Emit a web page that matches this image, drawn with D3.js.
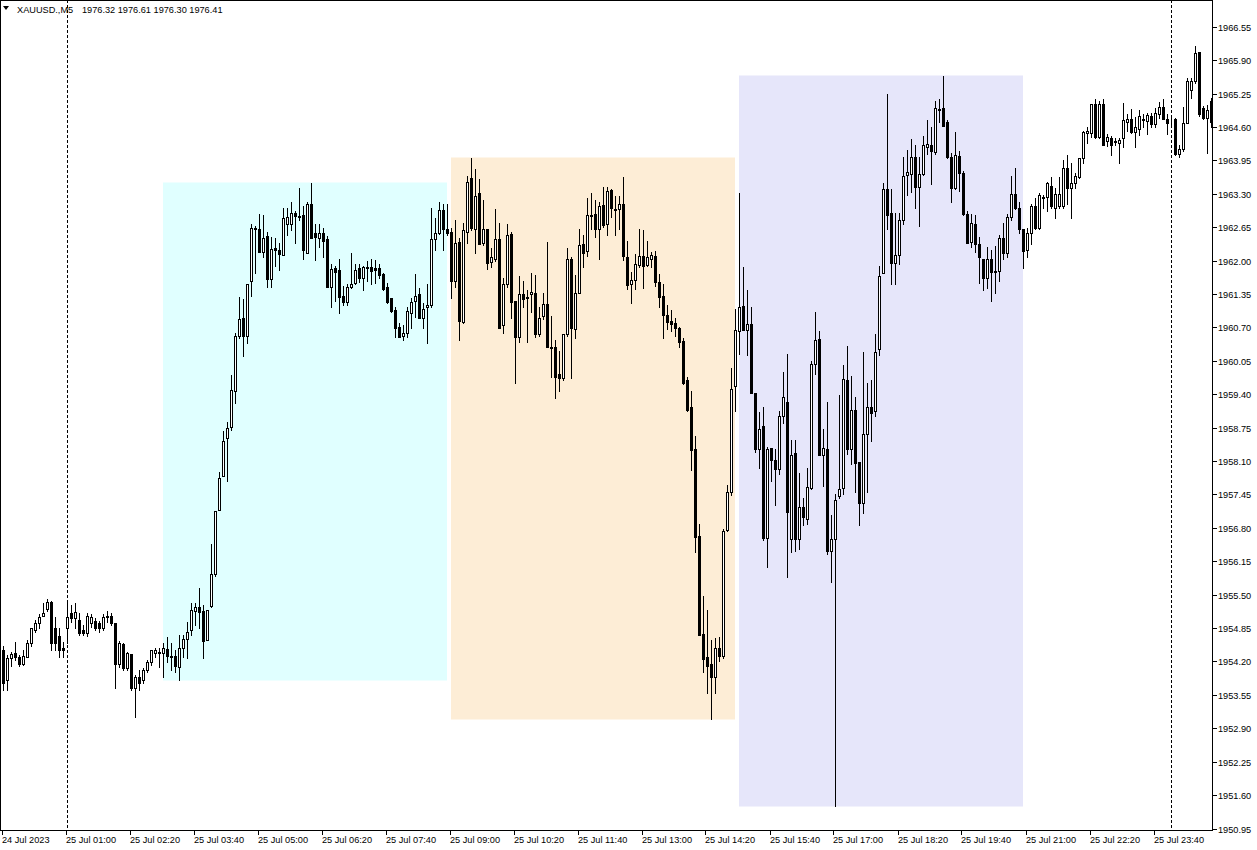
<!DOCTYPE html>
<html><head><meta charset="utf-8">
<script src="https://cdn.jsdelivr.net/npm/d3@7"></script>
<style>
html,body{margin:0;padding:0;background:#fff;}
svg{display:block;font-family:"Liberation Sans",Arial,sans-serif;}
</style></head><body>
<svg id="c" width="1257" height="850"></svg>
<script>
// ---------- DATA ----------
const symbolName = "XAUUSD.,M5";
const headerQuote = ["1976.32", "1976.61", "1976.30", "1976.41"];
const firstBarTime = "2023-07-24 22:40";   // M5 bars, no trading 00:00-00:55

const opens = [
1954.42,1953.83,1954.26,1954.36,1954.28,1954.16,1954.28,1954.55,1954.81,1954.94,
1955.09,1955.23,1955.35,1954.86,1954.69,1954.47,1954.86,1955.15,1955.04,1955.00,
1954.81,1954.75,1954.94,1954.98,1954.94,1954.85,1955.08,1955.09,1954.94,1954.16,
1954.53,1954.07,1954.34,1953.68,1953.89,1953.83,1954.03,1954.18,1954.36,1954.38,
1954.36,1954.44,1954.30,1954.30,1954.09,1954.47,1954.63,1954.81,1955.19,1955.25,
1955.19,1954.61,1955.27,1955.91,1957.14,1957.80,1958.54,1958.77,1959.47,1960.53,
1960.89,1960.54,1961.61,1962.61,1962.61,1962.16,1962.47,1961.65,1962.24,1962.20,
1962.10,1962.72,1962.72,1962.93,1962.86,1962.88,1962.14,1963.11,1962.53,1962.43,
1962.53,1962.41,1961.48,1961.85,1961.81,1961.32,1961.20,1961.48,1961.57,1961.85,
1961.67,1961.87,1961.88,1961.85,1961.85,1961.73,1961.48,1961.28,1961.03,1960.70,
1960.54,1960.60,1960.97,1961.22,1961.34,1960.89,1961.09,1961.13,1962.41,1962.53,
1962.99,1962.61,1962.55,1961.61,1962.37,1960.81,1962.55,1963.60,1962.61,1963.31,
1962.35,1962.61,1961.98,1962.04,1962.41,1960.74,1961.55,1962.51,1961.22,1960.51,
1961.34,1961.30,1961.34,1961.36,1960.58,1960.93,1961.16,1960.31,1960.31,1959.80,
1959.71,1960.58,1962.04,1960.66,1961.36,1962.32,1962.18,1962.86,1962.90,1962.62,
1963.09,1962.72,1963.38,1963.01,1963.01,1963.11,1962.06,1961.55,1961.63,1961.92,
1962.08,1961.92,1962.04,1962.08,1961.59,1961.32,1960.95,1960.83,1960.79,1960.68,
1960.43,1959.67,1959.16,1958.33,1956.65,1954.73,1954.28,1954.16,1953.89,1954.46,
1954.30,1956.75,1957.49,1959.55,1960.62,1961.11,1960.64,1960.76,1959.43,1958.33,
1958.79,1956.61,1958.35,1958.11,1957.94,1958.97,1959.24,1956.59,1958.25,1956.59,
1957.21,1956.98,1957.57,1959.98,1960.47,1958.21,1958.33,1956.34,1956.59,1957.41,
1957.57,1959.67,1958.33,1959.10,1958.09,1957.29,1958.62,1959.16,1959.08,1960.27,
1961.75,1963.40,1962.92,1961.96,1962.10,1962.78,1963.66,1963.69,1964.02,1963.44,
1963.69,1964.20,1964.24,1964.12,1964.92,1964.96,1964.69,1964.01,1963.42,1964.04,
1963.71,1962.90,1962.37,1962.72,1962.32,1962.04,1961.67,1962.04,1961.77,1961.79,
1962.43,1962.14,1962.84,1963.30,1963.03,1962.61,1962.20,1962.53,1963.07,1962.64,
1963.21,1963.23,1963.46,1963.03,1963.07,1963.07,1963.81,1963.42,1963.50,1963.62,
1963.99,1964.49,1964.49,1965.04,1964.40,1965.04,1964.32,1964.38,1964.32,1964.28,
1964.38,1964.69,1964.75,1964.51,1964.55,1964.73,1964.71,1964.82,1964.65,1964.86,
1964.98,1964.76,1964.76,1964.76,1964.08,1964.18,1964.67,1965.31,1965.50,1966.05,
1964.96,1964.78,1965.11];

const highs = [
1954.51,1954.32,1954.38,1954.57,1954.32,1954.42,1954.61,1954.86,1955.00,1955.13,
1955.33,1955.42,1955.37,1955.06,1954.86,1954.57,1955.33,1955.29,1955.33,1955.15,
1954.90,1955.15,1955.13,1955.04,1954.98,1955.13,1955.19,1955.15,1954.94,1954.59,
1954.55,1954.38,1954.34,1953.93,1954.03,1954.07,1954.22,1954.42,1954.46,1954.47,
1954.55,1954.67,1954.55,1954.42,1954.71,1954.71,1954.96,1955.33,1955.33,1955.62,
1955.29,1955.21,1956.49,1957.12,1957.88,1958.69,1958.85,1959.77,1960.60,1961.30,
1961.26,1961.55,1962.72,1962.68,1962.91,1962.89,1962.55,1962.45,1962.43,1962.35,
1963.03,1963.03,1963.13,1962.97,1963.42,1963.07,1963.13,1963.50,1962.72,1962.72,
1962.64,1962.47,1961.94,1961.90,1962.04,1961.50,1961.55,1962.14,1961.94,1961.94,
1961.90,1962.00,1962.04,1962.02,1961.94,1961.75,1961.57,1961.28,1961.09,1960.79,
1960.74,1961.09,1961.28,1961.73,1961.46,1961.18,1961.55,1963.03,1962.82,1963.13,
1963.11,1963.11,1962.64,1962.78,1962.43,1962.74,1963.65,1964.00,1963.79,1963.58,
1963.17,1962.62,1962.24,1963.01,1962.74,1961.67,1962.72,1962.55,1961.22,1961.69,
1961.61,1961.42,1961.75,1961.71,1961.09,1961.36,1962.37,1960.93,1960.45,1960.25,
1960.58,1962.24,1962.06,1961.71,1962.62,1962.49,1963.21,1963.31,1963.17,1963.13,
1963.44,1963.44,1963.40,1963.25,1963.25,1963.62,1962.39,1961.77,1962.12,1962.62,
1962.59,1962.39,1962.16,1962.18,1961.73,1961.55,1961.13,1961.03,1960.89,1960.70,
1960.49,1959.73,1959.47,1958.58,1956.88,1955.48,1955.21,1954.61,1954.65,1954.67,
1956.77,1957.64,1959.90,1961.05,1963.32,1961.87,1961.42,1961.09,1959.43,1959.06,
1959.16,1958.37,1958.35,1958.33,1959.08,1959.84,1960.19,1958.50,1958.50,1957.86,
1957.39,1957.97,1960.04,1960.99,1960.62,1958.73,1959.24,1957.04,1957.45,1959.38,
1959.96,1960.33,1959.75,1959.34,1958.09,1960.23,1959.61,1959.67,1960.58,1961.90,
1963.50,1965.25,1963.40,1962.93,1962.93,1964.02,1964.16,1964.36,1964.24,1964.02,
1964.43,1964.73,1964.59,1965.11,1965.15,1965.60,1964.73,1964.10,1964.51,1964.14,
1963.75,1962.97,1962.91,1962.88,1962.45,1962.04,1962.27,1962.20,1962.29,1962.49,
1962.74,1962.91,1963.64,1963.81,1963.13,1962.62,1962.64,1963.11,1963.21,1963.31,
1963.27,1963.52,1963.62,1963.42,1963.62,1963.95,1964.06,1963.89,1963.71,1964.00,
1964.53,1964.59,1965.04,1965.15,1965.11,1965.15,1964.47,1964.43,1964.38,1964.38,
1965.06,1964.86,1964.94,1964.80,1964.92,1964.86,1964.88,1964.88,1964.96,1965.08,
1965.15,1964.86,1964.78,1964.78,1964.24,1964.98,1965.56,1965.56,1966.18,1966.05,
1965.00,1965.02,1965.17];

const lows = [
1953.64,1953.64,1954.12,1954.22,1954.12,1954.14,1954.28,1954.51,1954.77,1954.86,
1955.09,1955.19,1954.42,1954.42,1954.28,1954.28,1954.55,1954.96,1954.86,1954.71,
1954.71,1954.69,1954.88,1954.81,1954.77,1954.81,1954.96,1954.90,1953.69,1954.09,
1954.03,1954.03,1953.64,1953.11,1953.64,1953.79,1953.99,1954.14,1954.28,1954.09,
1953.89,1954.18,1954.03,1953.99,1953.83,1954.28,1954.26,1954.71,1954.90,1954.86,
1954.26,1954.61,1955.25,1955.87,1957.14,1957.80,1957.72,1958.71,1959.22,1960.49,
1960.15,1960.39,1961.32,1961.75,1962.16,1962.06,1961.48,1961.48,1961.90,1961.81,
1962.10,1962.49,1962.59,1962.35,1962.78,1962.04,1962.14,1962.43,1962.02,1962.26,
1962.06,1961.48,1961.09,1961.22,1960.97,1961.13,1961.13,1961.46,1961.55,1961.59,
1961.42,1961.61,1961.55,1961.57,1961.67,1961.42,1961.18,1960.99,1960.51,1960.51,
1960.45,1960.51,1960.68,1960.91,1960.89,1960.68,1960.39,1961.09,1962.20,1962.51,
1962.20,1962.49,1961.28,1961.48,1960.45,1960.79,1962.35,1962.59,1962.14,1962.33,
1962.30,1961.83,1961.87,1962.00,1960.68,1960.60,1961.48,1960.89,1959.61,1960.41,
1961.09,1960.41,1960.99,1960.51,1960.54,1960.87,1960.31,1959.73,1959.32,1959.47,
1959.67,1960.54,1959.71,1960.49,1961.36,1961.87,1962.08,1962.62,1962.45,1962.04,
1962.66,1962.49,1962.84,1962.49,1962.62,1962.02,1961.44,1961.18,1961.44,1961.88,
1961.46,1961.90,1961.88,1961.50,1961.09,1960.49,1960.66,1960.62,1960.54,1960.31,
1959.59,1959.08,1957.92,1956.32,1954.71,1953.99,1953.58,1953.09,1953.58,1954.20,
1954.26,1956.73,1957.43,1959.08,1960.19,1960.64,1960.17,1959.43,1958.27,1957.96,
1956.57,1956.03,1957.72,1957.25,1957.84,1958.83,1955.85,1956.32,1956.34,1956.38,
1956.86,1956.88,1957.55,1959.80,1958.21,1957.61,1956.30,1955.74,1951.38,1957.39,
1957.45,1958.23,1958.05,1957.49,1956.85,1957.08,1957.49,1958.48,1958.97,1960.17,
1961.75,1962.61,1961.55,1961.55,1961.94,1962.72,1963.27,1963.33,1963.03,1962.68,
1963.66,1964.08,1963.48,1964.08,1964.69,1964.61,1963.99,1963.13,1963.40,1963.36,
1962.88,1962.35,1962.26,1962.16,1961.57,1961.42,1961.46,1961.22,1961.36,1961.61,
1962.04,1962.06,1962.78,1963.01,1962.53,1961.85,1962.06,1962.33,1962.62,1962.62,
1963.03,1962.97,1963.03,1962.82,1963.03,1963.03,1963.11,1962.82,1963.42,1963.60,
1963.89,1964.28,1964.40,1964.38,1964.38,1964.24,1964.22,1964.06,1964.24,1963.89,
1964.20,1964.53,1964.49,1964.20,1964.45,1964.59,1964.47,1964.59,1964.59,1964.78,
1964.75,1964.47,1964.63,1964.06,1964.01,1964.14,1964.67,1965.17,1965.45,1964.82,
1964.76,1964.10,1964.59];

const closes = [
1953.79,1954.26,1954.34,1954.28,1954.16,1954.30,1954.55,1954.85,1954.94,1955.06,
1955.15,1955.35,1954.55,1954.55,1954.42,1954.42,1955.06,1955.04,1955.17,1954.75,
1954.75,1955.08,1955.06,1954.86,1954.86,1955.06,1955.06,1954.94,1954.16,1954.55,
1954.07,1954.36,1953.68,1953.89,1953.79,1954.03,1954.18,1954.42,1954.42,1954.36,
1954.46,1954.30,1954.28,1954.12,1954.47,1954.63,1954.77,1955.21,1955.25,1955.17,
1954.59,1955.21,1955.91,1957.12,1957.76,1958.48,1958.75,1959.49,1960.53,1960.87,
1960.54,1961.55,1962.64,1962.63,1962.16,1962.43,1961.65,1962.22,1962.20,1962.12,
1962.82,1962.84,1962.93,1962.86,1962.84,1962.20,1963.11,1962.43,1962.45,1962.53,
1962.39,1961.48,1961.83,1961.77,1961.30,1961.20,1961.48,1961.55,1961.81,1961.67,
1961.87,1961.85,1961.79,1961.81,1961.71,1961.44,1961.20,1961.01,1960.68,1960.51,
1960.60,1961.01,1961.20,1961.32,1960.89,1961.05,1961.13,1962.41,1962.53,1962.99,
1962.62,1962.53,1961.61,1962.35,1960.83,1962.59,1963.52,1962.64,1963.25,1962.33,
1962.62,1961.96,1962.06,1962.41,1960.68,1961.55,1962.49,1961.20,1960.51,1961.34,
1961.26,1961.28,1961.38,1960.58,1960.89,1961.15,1960.31,1960.29,1959.73,1959.71,
1960.58,1962.04,1960.68,1961.36,1962.30,1962.14,1962.88,1962.88,1962.62,1963.07,
1962.70,1963.36,1963.03,1962.99,1963.11,1962.08,1961.53,1961.63,1961.94,1962.08,
1961.90,1962.06,1962.10,1961.59,1961.30,1960.95,1960.81,1960.76,1960.68,1960.41,
1959.61,1959.10,1958.31,1956.63,1954.71,1954.24,1954.12,1953.89,1954.46,1954.30,
1956.73,1957.49,1959.51,1960.64,1961.09,1960.64,1960.76,1959.43,1958.33,1958.73,
1956.61,1958.33,1958.11,1957.94,1958.97,1959.34,1957.10,1958.21,1956.59,1957.21,
1957.02,1957.59,1959.98,1960.45,1958.21,1958.35,1956.34,1956.59,1957.35,1957.55,
1959.69,1958.33,1959.10,1958.07,1957.29,1958.63,1959.16,1959.04,1960.23,1961.69,
1963.40,1962.88,1961.96,1962.10,1962.78,1963.64,1963.73,1964.02,1963.44,1963.69,
1964.24,1964.26,1964.14,1964.96,1964.94,1964.61,1964.01,1963.42,1964.06,1963.71,
1962.90,1962.35,1962.74,1962.33,1962.06,1961.67,1962.04,1961.77,1961.79,1962.43,
1962.14,1962.84,1963.30,1963.03,1962.62,1962.18,1962.53,1963.07,1962.64,1963.27,
1963.23,1963.50,1963.07,1963.30,1963.30,1963.81,1963.42,1963.50,1963.64,1963.99,
1964.51,1964.53,1965.04,1964.41,1965.04,1964.24,1964.40,1964.24,1964.30,1964.34,
1964.73,1964.75,1964.51,1964.59,1964.82,1964.75,1964.84,1964.65,1964.88,1964.98,
1964.76,1964.67,1964.75,1964.08,1964.18,1964.67,1965.50,1965.50,1966.03,1964.86,
1964.78,1964.92,1964.69];

const priceTicks = [1966.55,1965.90,1965.25,1964.60,1963.95,1963.30,1962.65,1962.00,1961.35,1960.70,
  1960.05,1959.40,1958.75,1958.10,1957.45,1956.80,1956.15,1955.50,1954.85,1954.20,1953.55,
  1952.90,1952.25,1951.60,1950.95];
const timeTickLabels = ["24 Jul 2023","25 Jul 01:00","25 Jul 02:20","25 Jul 03:40","25 Jul 05:00",
  "25 Jul 06:20","25 Jul 07:40","25 Jul 09:00","25 Jul 10:20","25 Jul 11:40","25 Jul 13:00",
  "25 Jul 14:20","25 Jul 15:40","25 Jul 17:00","25 Jul 18:20","25 Jul 19:40","25 Jul 21:00",
  "25 Jul 22:20","25 Jul 23:40"];
const sessionStarts = ["25 Jul 03:00","25 Jul 09:00","25 Jul 15:00"];
const sessionEnds   = ["25 Jul 08:55","25 Jul 14:55","25 Jul 20:55"];
const sessionColors = ["#E0FFFF","#FDEDD6","#E6E6FA"];

// ---------- BUILD ----------
const parse = d3.timeParse("%Y-%m-%d %H:%M");
const fmtBar = d3.timeFormat("%-d %b %H:%M");
const fmtDate = d3.timeFormat("%-d %b %Y");
const times = [];
{ let t = parse(firstBarTime);
  while (times.length < opens.length) {
    if (t.getHours() !== 0) times.push(new Date(t));
    t = new Date(t.getTime() + 5*60000);
  } }
const bars = opens.map((o,i)=>({i, t:times[i], o, h:highs[i], l:lows[i], c:closes[i]}));

const W = 1257, H = 850, plotR = 1212, plotB = 830;
const svg = d3.select("#c");
const x = d3.scaleLinear().domain([0, bars.length-1]).range([3.5, 3.5 + 4*(bars.length-1)]);
const y = d3.scaleLinear().domain([1950.95, 1966.55]).range([828.5, 26.7]);

svg.append("rect").attr("width",W).attr("height",H).attr("fill","#fff");
svg.append("defs").append("clipPath").attr("id","plot")
  .append("rect").attr("x",1).attr("y",1).attr("width",plotR-1).attr("height",plotB-1);
const plot = svg.append("g").attr("clip-path","url(#plot)");

const idxOf = s => bars.findIndex(b => fmtBar(b.t) === s);

// session rectangles
sessionStarts.forEach((s,k)=>{
  const a = idxOf(s), b = idxOf(sessionEnds[k]);
  const slice = bars.slice(a, b+1);
  const hi = d3.max(slice, d=>d.h), lo = d3.min(slice, d=>d.l);
  plot.append("rect")
    .attr("x", x(a)-0.5).attr("width", x(b)-x(a))
    .attr("y", Math.round(y(hi))-0.5).attr("height", Math.round(y(lo))-Math.round(y(hi))+1)
    .attr("fill", sessionColors[k]);
});

// day separators
bars.filter(b=>b.t.getHours()===1 && b.t.getMinutes()===0).forEach(b=>{
  plot.append("line").attr("x1",x(b.i)).attr("x2",x(b.i)).attr("y1",0).attr("y2",plotB)
    .attr("stroke","#000").attr("stroke-width",1).attr("stroke-dasharray","3,2")
    .attr("shape-rendering","crispEdges");
});

// candles
const cg = plot.append("g").attr("shape-rendering","crispEdges");
const ry = v => Math.round(y(v)) + 0.5;
cg.selectAll("line.w").data(bars).join("line").attr("class","w")
  .attr("x1",d=>x(d.i)).attr("x2",d=>x(d.i))
  .attr("y1",d=>ry(d.h)-0.5).attr("y2",d=>ry(d.l)+0.5)
  .attr("stroke","#000").attr("stroke-width",1);
cg.selectAll("rect.b").data(bars).join("rect").attr("class","b")
  .attr("x",d=>x(d.i)-1).attr("width",2)
  .attr("y",d=>ry(Math.max(d.o,d.c)))
  .attr("height",d=>Math.max(0, ry(Math.min(d.o,d.c)) - ry(Math.max(d.o,d.c))))
  .attr("fill",d=> d.c < d.o ? "#000" : "#fff")
  .attr("stroke","#000").attr("stroke-width",1);

// frame
svg.append("rect").attr("x",0.5).attr("y",0.5).attr("width",plotR).attr("height",plotB)
  .attr("fill","none").attr("stroke","#000").attr("stroke-width",1).attr("shape-rendering","crispEdges");

// price axis
const ya = svg.append("g").attr("font-size","9.2px").attr("fill","#000");
priceTicks.forEach(p=>{
  const yy = Math.round(y(p)) + 0.5;
  ya.append("line").attr("x1",plotR+0.5).attr("x2",plotR+5).attr("y1",yy).attr("y2",yy)
    .attr("stroke","#000").attr("shape-rendering","crispEdges");
  ya.append("text").attr("x",plotR+6).attr("y",yy).attr("dy","0.35em").text(d3.format(".2f")(p));
});

// time axis
const xa = svg.append("g").attr("font-size","9.2px").attr("fill","#000");
timeTickLabels.forEach(s=>{
  let i = idxOf(s);
  if (i < 0) i = bars.findIndex(b => fmtDate(b.t) === s);
  const xx = Math.round(x(i)) - 1.5;
  xa.append("line").attr("x1",xx).attr("x2",xx).attr("y1",plotB).attr("y2",plotB+5)
    .attr("stroke","#000").attr("shape-rendering","crispEdges");
  xa.append("text").attr("x",xx-0.5).attr("y",plotB+13).text(s);
});

// header
svg.append("path").attr("d","M3,6 L9,6 L6,10 Z").attr("fill","#000");
svg.append("text").attr("x",17).attr("y",13).attr("font-size","9.2px").text(symbolName);
svg.append("text").attr("x",82).attr("y",13).attr("font-size","9.2px").text(headerQuote.join(" "));
</script>
</body></html>
